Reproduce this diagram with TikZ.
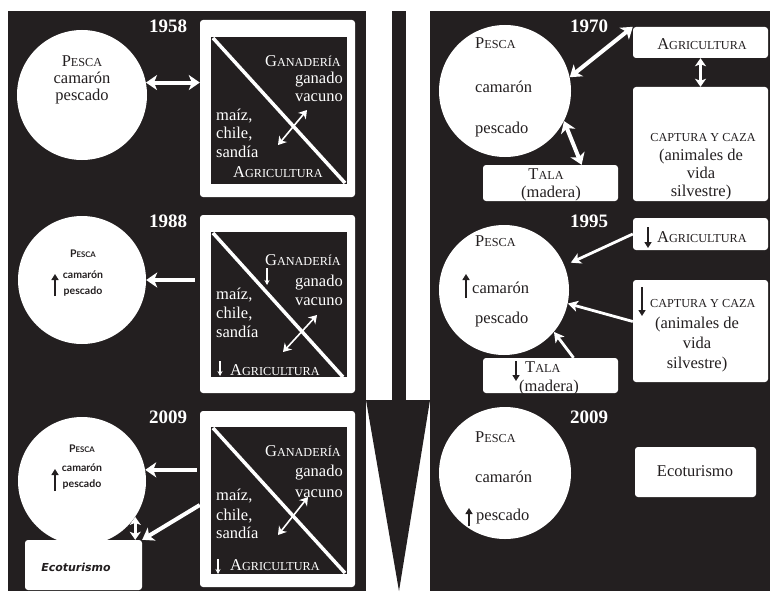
\documentclass[tikz,border=0pt]{standalone}
\usepackage{fontspec}
\setmainfont{Liberation Serif}
\newfontfamily\latof{Lato}
\newfontfamily\dvsf{DejaVu Sans}
\usetikzlibrary{arrows.meta,calc}
\definecolor{ink}{RGB}{35,31,32}
\newcommand\fsc[2]{#1\scalebox{0.74}{#2}}
\begin{document}
\begin{tikzpicture}[x=1pt,y=-1pt,
  circ/.style={circle, fill=white, inner sep=0pt, minimum size=#1},
  wbox/.style={fill=white, rounded corners=3pt, inner sep=0pt},
  tw/.style={inner sep=0pt, text=white, font=\fontsize{16.5}{19}\selectfont},
  tk/.style={inner sep=0pt, text=ink, font=\fontsize{16.5}{19}\selectfont},
  ls/.style={inner sep=0pt, text=ink, font=\latof\bfseries\fontsize{10.5}{12}\selectfont, anchor=base},
  yr/.style={inner sep=0pt, text=white, font=\bfseries\fontsize{19}{22}\selectfont, anchor=base west},
  bigarr/.style={draw=white, line width=4pt, -{Stealth[length=11pt,width=15pt,inset=3pt]}},
  bigdbl/.style={draw=white, line width=4pt, {Stealth[length=11pt,width=15pt,inset=3pt]}-{Stealth[length=11pt,width=15pt,inset=3pt]}},
  smalldbl/.style={draw=white, line width=3pt, {Stealth[length=8pt,width=11pt,inset=2pt]}-{Stealth[length=8pt,width=11pt,inset=2pt]}},
  medarr/.style={draw=white, line width=2.8pt, -{Stealth[length=10pt,width=11pt,inset=2.5pt]}},
  thindbl/.style={draw=white, line width=1.6pt, {Stealth[length=8pt,width=10pt,inset=2.5pt]}-{Stealth[length=8pt,width=10pt,inset=2.5pt]}},
  karr/.style={draw=ink, line width=2.2pt, -{Triangle[length=6pt,width=7pt]}},
  wsmall/.style={draw=white, line width=1.2pt, -{Stealth[length=5pt,width=5pt]}},
  diag/.style={draw=white, line width=3.5pt}
]
\useasboundingbox (0,0) rectangle (770,591);
% background and panels
\fill[white] (0,0) rectangle (770,591);
\fill[ink] (8,11) rectangle (366,591);
\fill[ink] (430,11) rectangle (770,591);
\fill[ink] (392,11) rectangle (406,400);
\fill[ink] (366,400) -- (430,400) -- (399,591) -- cycle;

% ===== LEFT ROW 1 : 1958 =====
\node[circ=130pt] (c1) at (82,95) {};
\node[tk, anchor=base] (c1a) at (82,67) {\fsc{P}{ESCA}};
\node[tk, anchor=base] (c1b) at (82,84) {camarón};
\node[tk, anchor=base] (c1c) at (82,101) {pescado};
\node[yr] (y1) at (149,33) {1958};
\node[wbox, minimum width=155pt, minimum height=177pt] (b1) at (277.5,108.5) {};
\fill[ink] (211,37) rectangle (347,184);
\draw[diag] (213,38) -- (345,183);
\node[tw, anchor=base east] (g1a) at (341,67) {\fsc{G}{ANADERÍA}};
\node[tw, anchor=base east] (g1b) at (343,84) {ganado};
\node[tw, anchor=base east] (g1c) at (343,102) {vacuno};
\node[tw, anchor=base west] (m1a) at (216,121) {maíz,};
\node[tw, anchor=base west] (m1b) at (216,139) {chile,};
\node[tw, anchor=base west] (m1c) at (216,157) {sandía};
\node[tw, anchor=base west] (a1) at (233,177) {\fsc{A}{GRICULTURA}};
\draw[thindbl] (278,145) -- (307,110);
\draw[bigdbl] (c1.11) -- (c1.11 -| b1.west);

% ===== LEFT ROW 2 : 1988 =====
\node[circ=128pt] (c2) at (82,280) {};
\node[ls] (c2a) at (83,257) {\fsc{P}{ESCA}};
\node[ls] (c2b) at (83,278) {camarón};
\node[ls] (c2c) at (83,294) {pescado};
\draw[karr] (55,296) -- (55,274);
\node[yr] (y2) at (149,227) {1988};
\node[wbox, minimum width=155pt, minimum height=178pt] (b2) at (277.5,304) {};
\fill[ink] (211,232) rectangle (347,377);
\draw[diag] (213,233) -- (343,377);
\node[tw, anchor=base east] (g2a) at (341,265) {\fsc{G}{ANADERÍA}};
\draw[wsmall] (267,268) -- (267,285);
\node[tw, anchor=base east] (g2b) at (343,286) {ganado};
\node[tw, anchor=base east] (g2c) at (343,305) {vacuno};
\node[tw, anchor=base west] (m2a) at (216,299) {maíz,};
\node[tw, anchor=base west] (m2b) at (216,318) {chile,};
\node[tw, anchor=base west] (m2c) at (216,337) {sandía};
\draw[wsmall] (220,361) -- (220,376);
\node[tw, anchor=base west] (a2) at (230,375) {\fsc{A}{GRICULTURA}};
\draw[thindbl] (283,352) -- (317,315);
\draw[bigarr, shorten <=5pt] (b2.west |- c2.east) -- (c2.east);

% ===== LEFT ROW 3 : 2009 =====
\node[circ=128pt] (c3) at (82,481) {};
\node[ls] (c3a) at (82,452) {\fsc{P}{ESCA}};
\node[ls] (c3b) at (82,471) {camarón};
\node[ls] (c3c) at (82,487) {pescado};
\draw[karr] (55,491) -- (55,469);
\node[yr] (y3) at (149,423) {2009};
\node[wbox, minimum width=155pt, minimum height=176pt] (b3) at (277.5,499) {};
\fill[ink] (211,427) rectangle (347,574);
\draw[diag] (213,428) -- (345,573);
\node[tw, anchor=base east] (g3a) at (341,456) {\fsc{G}{ANADERÍA}};
\node[tw, anchor=base east] (g3b) at (343,476) {ganado};
\node[tw, anchor=base east] (g3c) at (343,497) {vacuno};
\node[tw, anchor=base west] (m3a) at (216,500) {maíz,};
\node[tw, anchor=base west] (m3b) at (216,520) {chile,};
\node[tw, anchor=base west] (m3c) at (216,538) {sandía};
\draw[wsmall] (218,559) -- (218,574);
\node[tw, anchor=base west] (a3) at (230,570) {\fsc{A}{GRICULTURA}};
\draw[thindbl] (278,535) -- (308,497);
\node[wbox, minimum width=117pt, minimum height=50pt] (e1) at (83.5,565) {};
\node[inner sep=0pt, text=ink, font=\dvsf\bfseries\itshape\fontsize{11}{13}\selectfont] (e1t) at (76,567) {Ecoturismo};
\draw[bigarr, shorten <=3pt] (c3.10 -| b3.west) -- (c3.10);
\draw[bigarr] ($(b3.west)+(0,6)$) -- (e1.north east);
\draw[smalldbl] (c3.-34) -- (c3.-34 |- e1.north);

% ===== RIGHT ROW 1 : 1970 =====
\node[circ=132pt] (c4) at (505,91) {};
\node[tk, anchor=base west] (c4a) at (475,49) {\fsc{P}{ESCA}};
\node[tk, anchor=base west] (c4b) at (475,93) {camarón};
\node[tk, anchor=base west] (c4c) at (475,133) {pescado};
\node[yr] (y4) at (570,33) {1970};
\node[wbox, minimum width=135pt, minimum height=31pt] (r1a) at (700.5,42.5) {};
\node[tk, anchor=base] (r1at) at (702,50) {\fsc{A}{GRICULTURA}};
\node[wbox, minimum width=135pt, minimum height=114pt] (r1c) at (700.5,144) {};
\node[tk, anchor=base] (r1c1) at (703,141) {\scalebox{0.74}{CAPTURA Y CAZA}};
\node[tk, anchor=base] (r1c2) at (701,160) {(animales de};
\node[tk, anchor=base] (r1c3) at (701,178) {vida};
\node[tk, anchor=base] (r1c4) at (701,196) {silvestre)};
\node[wbox, minimum width=135pt, minimum height=36pt] (r1t) at (550.5,183) {};
\node[tk, anchor=base] (r1tt) at (546,179) {\fsc{T}{ALA}};
\node[tk, anchor=base] (r1tm) at (551,197) {(madera)};
\draw[bigdbl] (c4.12) -- (r1a.north west);
\draw[smalldbl] (r1a.south) -- (r1c.north);
\draw[bigdbl] (c4.-27) -- ($(r1t.north west)!0.73!(r1t.north east)$);

% ===== RIGHT ROW 2 : 1995 =====
\node[circ=130pt] (c5) at (504,290) {};
\node[tk, anchor=base west] (c5a) at (475,246) {\fsc{P}{ESCA}};
\draw[karr] (466,298) -- (466,274);
\node[tk, anchor=base west] (c5b) at (472,293) {camarón};
\node[tk, anchor=base west] (c5c) at (475,323) {pescado};
\node[yr] (y5) at (570,227) {1995};
\node[wbox, minimum width=135pt, minimum height=32pt] (r2a) at (700.5,234) {};
\draw[karr] (648,227) -- (648,248);
\node[tk, anchor=base west] (r2at) at (657,242) {\fsc{A}{GRICULTURA}};
\node[wbox, minimum width=135pt, minimum height=102pt] (r2c) at (700.5,331) {};
\draw[karr] (642,287) -- (642,316);
\node[tk, anchor=base west] (r2c1) at (650,307) {\scalebox{0.74}{CAPTURA Y CAZA}};
\node[tk, anchor=base] (r2c2) at (697,328) {(animales de};
\node[tk, anchor=base] (r2c3) at (697,348) {vida};
\node[tk, anchor=base] (r2c4) at (697,368) {silvestre)};
\node[wbox, minimum width=135pt, minimum height=35pt] (r2t) at (550.5,375.5) {};
\draw[karr] (516,361) -- (516,381);
\node[tk, anchor=base west] (r2tt) at (525,372) {\fsc{T}{ALA}};
\node[tk, anchor=base west] (r2tm) at (519,391) {(madera)};
\draw[medarr, shorten >=7pt] (r2a.west) -- (c5.22);
\draw[medarr] (r2c.172) -- (c5.-12);
\draw[medarr] ($(r2t.north west)!0.67!(r2t.north east)$) -- (c5.-40);

% ===== RIGHT ROW 3 : 2009 =====
\node[circ=132pt] (c6) at (505,473) {};
\node[tk, anchor=base west] (c6a) at (475,442) {\fsc{P}{ESCA}};
\node[tk, anchor=base west] (c6b) at (475,482) {camarón};
\draw[karr] (469,526) -- (469,508);
\node[tk, anchor=base west] (c6c) at (476,520) {pescado};
\node[yr] (y6) at (570,423) {2009};
\node[wbox, minimum width=121pt, minimum height=50pt] (r3e) at (695.5,472) {};
\node[tk] (r3et) at (695,471) {Ecoturismo};
\end{tikzpicture}
\end{document}
